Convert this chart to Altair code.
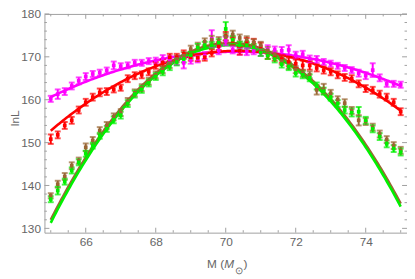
import altair as alt
import pandas as pd
import numpy as np

# ---------------- data ----------------
mass = [65.0, 65.2, 65.4, 65.6, 65.8, 66.0, 66.2, 66.4, 66.6, 66.8,
        67.0, 67.2, 67.4, 67.6, 67.8, 68.0, 68.2, 68.4, 68.6, 68.8,
        69.0, 69.2, 69.4, 69.6, 69.8, 70.0, 70.2, 70.4, 70.6, 70.8,
        71.0, 71.2, 71.4, 71.6, 71.8, 72.0, 72.2, 72.4, 72.6, 72.8,
        73.0, 73.2, 73.4, 73.6, 73.8, 74.0, 74.2, 74.4, 74.6, 74.8, 75.0]

lnL_magenta = [160.2, 161.3, 161.9, 163.2, 164.4, 165.4, 166.0, 166.3, 166.8, 168.0,
               167.8, 168.0, 168.6, 168.6, 169.0, 169.1, 169.6, 169.4, 169.0, 168.6,
               169.2, 169.5, 170.3, 174.2, 171.5, 173.7, 171.6, 171.3, 171.2, 171.4,
               171.0, 171.8, 171.6, 171.4, 171.6, 170.4, 170.6, 169.5, 169.4, 168.8,
               168.4, 167.9, 167.4, 166.9, 166.2, 165.6, 166.9, 165.1, 163.7, 163.7, 163.5]
lnL_red = [150.8, 151.8, 154.0, 155.2, 157.6, 159.4, 160.6, 161.7, 161.9, 162.4,
           162.8, 164.9, 165.6, 165.8, 166.5, 168.0, 168.6, 169.9, 169.9, 170.7,
           169.9, 169.8, 169.9, 170.9, 172.5, 174.8, 173.7, 171.4, 173.5, 173.3,
           172.4, 170.3, 169.9, 169.5, 168.8, 168.4, 168.0, 168.0, 167.4, 166.9,
           166.5, 165.8, 165.2, 164.9, 163.7, 162.6, 162.2, 161.3, 160.6, 159.4, 157.2]
lnL_brown = [137.6, 140.3, 142.1, 144.6, 145.8, 148.9, 150.5, 152.8, 154.0, 156.0,
             157.0, 159.6, 161.6, 162.8, 164.3, 165.8, 167.0, 168.2, 169.5, 170.3,
             171.8, 172.5, 173.5, 174.0, 173.8, 174.6, 175.2, 174.4, 174.0, 173.3,
             172.7, 171.5, 170.5, 169.0, 168.0, 167.0, 166.2, 165.8, 162.3, 162.5,
             161.5, 160.0, 159.2, 157.5, 155.2, 154.9, 153.6, 152.0, 150.7, 149.3, 148.2]
lnL_green = [136.8, 138.8, 140.9, 143.5, 145.4, 147.4, 149.3, 151.6, 153.2, 155.3,
             156.4, 159.1, 161.3, 162.4, 163.9, 165.4, 166.5, 167.7, 168.8, 169.5,
             170.4, 172.2, 172.7, 172.7, 173.3, 176.5, 174.0, 172.7, 172.7, 172.2,
             171.0, 170.3, 169.5, 168.3, 167.7, 166.2, 165.8, 165.1, 163.2, 162.0,
             160.6, 159.1, 157.6, 157.0, 157.2, 155.2, 153.2, 151.4, 149.7, 148.6, 147.8]

err_magenta = [0.7, 1.1, 0.8, 0.8, 0.8, 0.8, 0.7, 0.7, 0.7, 0.9,
               0.7, 0.7, 0.7, 0.7, 0.7, 0.7, 0.8, 0.8, 0.9, 1.3,
               0.8, 0.8, 0.8, 2.0, 0.9, 1.0, 0.8, 0.8, 0.8, 0.8,
               0.8, 0.9, 0.8, 0.9, 1.1, 0.8, 0.8, 0.8, 0.8, 0.7,
               0.7, 0.7, 0.7, 0.7, 0.8, 0.8, 1.6, 0.8, 0.7, 0.7, 0.7]
err_red = [1.1, 0.8, 0.8, 0.8, 0.8, 0.8, 0.8, 0.9, 0.8, 0.7,
           0.7, 0.8, 0.8, 0.8, 0.8, 0.8, 0.8, 0.8, 0.8, 0.8,
           0.8, 0.8, 0.8, 0.8, 0.9, 1.0, 0.9, 0.9, 0.9, 0.9,
           0.9, 0.8, 0.8, 0.9, 1.0, 1.0, 1.1, 1.0, 0.8, 0.8,
           0.8, 0.8, 0.8, 0.8, 0.8, 0.8, 0.8, 0.8, 0.8, 0.8, 0.8]
err_brown = [0.6, 0.8, 0.8, 0.8, 0.7, 0.9, 0.8, 0.8, 0.8, 0.8,
             0.8, 0.8, 0.8, 0.8, 0.8, 0.8, 0.8, 0.8, 0.8, 0.8,
             0.8, 0.8, 0.8, 0.9, 0.8, 0.8, 0.9, 0.8, 0.8, 0.8,
             0.8, 0.8, 0.8, 0.8, 0.8, 0.8, 0.8, 0.8, 1.1, 1.2,
             0.8, 0.8, 0.9, 0.8, 1.2, 0.8, 0.8, 0.8, 0.8, 0.8, 0.8]
err_green = [0.7, 0.9, 0.7, 0.7, 0.7, 0.7, 0.7, 0.7, 0.7, 0.8,
             0.8, 0.8, 0.8, 0.8, 0.8, 0.8, 0.8, 0.8, 0.8, 0.8,
             0.8, 0.8, 0.8, 0.8, 0.8, 1.6, 0.9, 0.8, 0.8, 0.8,
             0.8, 0.8, 0.8, 0.8, 0.8, 0.8, 0.8, 0.8, 0.8, 0.8,
             0.8, 0.8, 0.8, 0.9, 1.1, 0.8, 0.8, 0.8, 0.8, 0.8, 0.8]

series_names = ["magenta", "red", "brown", "green"]
series_colors = ["#FF00FF", "#FF0000", "#996633", "#00F000"]

# fitted model curves: lnL = peak - curvature * (M - M_peak)^2
peak_mass = [70.35, 70.36, 70.12, 70.12]
peak_lnL = [171.2, 171.4, 173.2, 172.7]
curvature = [0.37, 0.648, 1.572, 1.58]

x_major = [66, 68, 70, 72, 74]
x_minor = [65, 65.5, 66.5, 67, 67.5, 68.5, 69, 69.5, 70.5, 71, 71.5, 72.5, 73, 73.5, 74.5, 75]
y_major = [130, 140, 150, 160, 170, 180]
y_minor = [132, 134, 136, 138, 142, 144, 146, 148, 152, 154, 156, 158,
           162, 164, 166, 168, 172, 174, 176, 178]

# ---------------- tables ----------------
rows = []
for name, vals, errs in zip(series_names,
                            [lnL_magenta, lnL_red, lnL_brown, lnL_green],
                            [err_magenta, err_red, err_brown, err_green]):
    for m, v, e in zip(mass, vals, errs):
        rows.append({"series": name, "M": m, "lnL": v, "lo": v - e, "hi": v + e})
pts = pd.DataFrame(rows)

grid = np.linspace(65, 75, 201)
crow = []
for i, name in enumerate(series_names):
    for g in grid:
        crow.append({"series": name, "M": float(g),
                     "lnL": peak_lnL[i] - curvature[i] * (g - peak_mass[i]) ** 2, "o": i})
curves = pd.DataFrame(crow)

W, H = 368, 222
FONT = "Liberation Sans"
GRAY = "#666666"
FRAME = "#a0a0a0"

xs = alt.Scale(domain=[64.82, 75.18], nice=False, zero=False)
ys = alt.Scale(domain=[129, 180], nice=False, zero=False)
col = alt.Color("series:N", scale=alt.Scale(domain=series_names, range=series_colors), legend=None)

xaxis = alt.Axis(values=x_major, ticks=False, domain=False, grid=False, labelFont=FONT,
                 labelFontSize=12, labelColor=GRAY, labelPadding=4, title=None)
yaxis = alt.Axis(values=y_major, ticks=False, domain=False, grid=False, labelFont=FONT,
                 labelFontSize=12, labelColor=GRAY, labelPadding=4, title=None)

curve_layer = alt.Chart(curves).mark_line(strokeWidth=2.6, clip=True).encode(
    x=alt.X("M:Q", scale=xs, axis=xaxis),
    y=alt.Y("lnL:Q", scale=ys, axis=yaxis),
    color=col, order="M:Q", detail="o:O")

bars = alt.Chart(pts).mark_rule(strokeWidth=2).encode(
    x=alt.X("M:Q", scale=xs), y=alt.Y("lo:Q", scale=ys), y2="hi:Q", color=col)
cap_lo = alt.Chart(pts).mark_tick(orient="horizontal", size=6, thickness=2).encode(
    x=alt.X("M:Q", scale=xs), y=alt.Y("lo:Q", scale=ys), color=col)
cap_hi = alt.Chart(pts).mark_tick(orient="horizontal", size=6, thickness=2).encode(
    x=alt.X("M:Q", scale=xs), y=alt.Y("hi:Q", scale=ys), color=col)
dots = alt.Chart(pts).mark_square(size=14, opacity=1).encode(
    x=alt.X("M:Q", scale=xs), y=alt.Y("lnL:Q", scale=ys), color=col)

def xticks(vals, ln):
    d = pd.DataFrame({"v": vals})
    b = alt.Chart(d).mark_rule(color=FRAME, strokeWidth=1).encode(
        x=alt.X("v:Q", scale=xs), y=alt.value(H), y2=alt.value(H - ln))
    t = alt.Chart(d).mark_rule(color=FRAME, strokeWidth=1).encode(
        x=alt.X("v:Q", scale=xs), y=alt.value(0), y2=alt.value(ln))
    return b + t

def yticks(vals, ln):
    d = pd.DataFrame({"v": vals})
    l = alt.Chart(d).mark_rule(color=FRAME, strokeWidth=1).encode(
        y=alt.Y("v:Q", scale=ys), x=alt.value(0), x2=alt.value(ln))
    r = alt.Chart(d).mark_rule(color=FRAME, strokeWidth=1).encode(
        y=alt.Y("v:Q", scale=ys), x=alt.value(W), x2=alt.value(W - ln))
    return l + r

def txt(s, x, y, size=12, style="normal"):
    return alt.Chart(alt.Data(values=[{"t": s}])).mark_text(
        font=FONT, fontSize=size, fontStyle=style, color=GRAY, align="left",
        baseline="alphabetic").encode(
        text="t:N", x=alt.value(x), y=alt.value(y))

ylab = alt.Chart(alt.Data(values=[{"t": "lnL"}])).mark_text(
    font=FONT, fontSize=12, color=GRAY, align="center", baseline="middle", angle=270).encode(
    text="t:N", x=alt.value(-30), y=alt.value(106))

xlab = (txt("M (", 165, 258) + txt("M", 182.5, 258, style="italic")
        + txt("\u2299", 193.5, 264, size=10) + txt(")", 202, 258))

chart = alt.layer(
    curve_layer, bars, cap_lo, cap_hi, dots,
    xticks(x_major, 5), xticks(x_minor, 2.5), yticks(y_major, 5), yticks(y_minor, 2.5),
    ylab, xlab
).properties(
    width=W, height=H,
    padding={"left": 37, "top": 4, "right": 0, "bottom": 44},
    autosize="none"
).configure_view(stroke=FRAME, strokeWidth=1)

chart.save("out.html", embed_options={"renderer": "svg", "actions": False})
